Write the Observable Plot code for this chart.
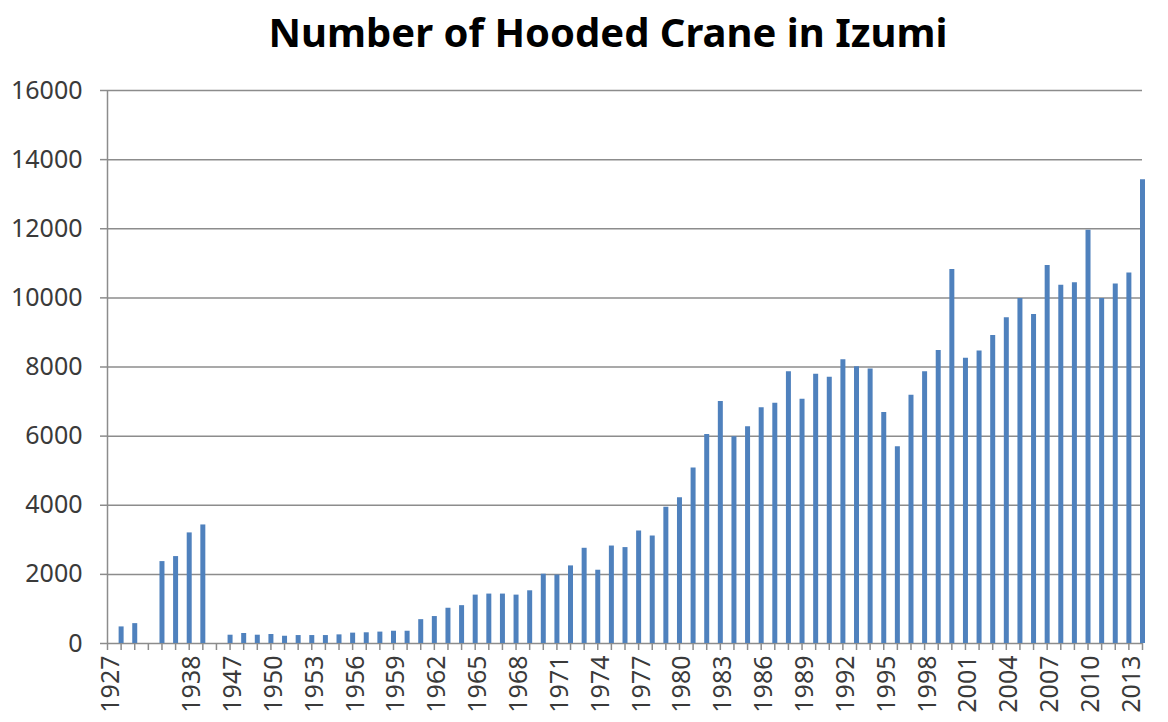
<!DOCTYPE html>
<html><head><meta charset="utf-8">
<script src="https://cdn.jsdelivr.net/npm/d3@7"></script>
<script src="https://cdn.jsdelivr.net/npm/@observablehq/plot@0.6"></script>
<style>
html,body{margin:0;padding:0;background:#fff;overflow:hidden}
#title{box-sizing:border-box;width:1168px;height:70px;padding:12px 0 0 48px;text-align:center;font:bold 40px/40px "Noto Sans",sans-serif;color:#000;white-space:nowrap}
</style></head><body>
<div id="title">Number of Hooded Crane in Izumi</div>
<div id="chart"></div>
<script>
const categories = ["1927","1928","1929","gap1","1936","1937","1938","1939","gap2",
  "1947","1948","1949","1950","1951","1952","1953","1954","1955","1956","1957","1958","1959","1960",
  "1961","1962","1963","1964","1965","1966","1967","1968","1969","1970","1971","1972","1973","1974",
  "1975","1976","1977","1978","1979","1980","1981","1982","1983","1984","1985","1986","1987","1988",
  "1989","1990","1991","1992","1993","1994","1995","1996","1997","1998","1999","2000","2001","2002",
  "2003","2004","2005","2006","2007","2008","2009","2010","2011","2012","2013","2014"];
const counts = [null,480,575,null,2370,2515,3200,3430,null,
  240,290,240,260,210,230,230,230,250,300,310,330,355,355,
  690,780,1020,1095,1400,1430,1430,1400,1525,2005,1980,2245,2755,2120,2820,2775,3255,3110,3945,4215,5080,
  6050,7000,5980,6270,6820,6950,7860,7065,7790,7700,8210,8005,7940,6680,5690,7180,
  7865,8480,10820,8250,8460,8915,9425,9980,9520,10935,10365,10435,11955,9980,10405,10720,13415];
const tickLabels = ["1927","1938","1947","1950","1953","1956","1959","1962","1965","1968","1971","1974",
  "1977","1980","1983","1986","1989","1992","1995","1998","2001","2004","2007","2010","2013"];
const yTicks = [0,2000,4000,6000,8000,10000,12000,14000,16000];

const data = categories.map((c,i)=>({year:c, count:counts[i]})).filter(d=>d.count!=null);
const axisColor = "#8c8c8c";

const chart = Plot.plot({
  width:1168, height:652, marginTop:20, marginBottom:79, marginLeft:107, marginRight:26,
  style:{fontFamily:'"Noto Sans", sans-serif', fontSize:"25px", color:"#3a3a3a", background:"#fff"},
  x:{type:"point", domain:categories, padding:0},
  y:{domain:[0,16000]},
  marks:[
    Plot.gridY(yTicks, {stroke:axisColor, strokeOpacity:1, strokeWidth:1.5}),
    Plot.axisY(yTicks, {tickSize:7, tickPadding:18, tickFormat:d=>String(d), stroke:axisColor, strokeWidth:1.5, label:null}),
    Plot.axisX({ticks:categories, tickSize:0, tickPadding:12, tickRotate:-90, dx:3,
      tickFormat:d=>tickLabels.includes(d)?d:"", label:null}),
    // category tick marks below the axis
    Plot.ruleX(categories, {x:d=>d, y1:0, y2:0, insetBottom:-7, stroke:axisColor, strokeWidth:1.5}),
    // vertical value axis line
    Plot.ruleX([categories[0]], {x:d=>d, y1:0, y2:16000, stroke:axisColor, strokeWidth:1.5}),
    Plot.ruleX(data, {x:"year", y1:0, y2:"count", stroke:"#4F81BD", strokeWidth:5})
  ]
});
document.getElementById("chart").appendChild(chart);
</script>
</body></html>
